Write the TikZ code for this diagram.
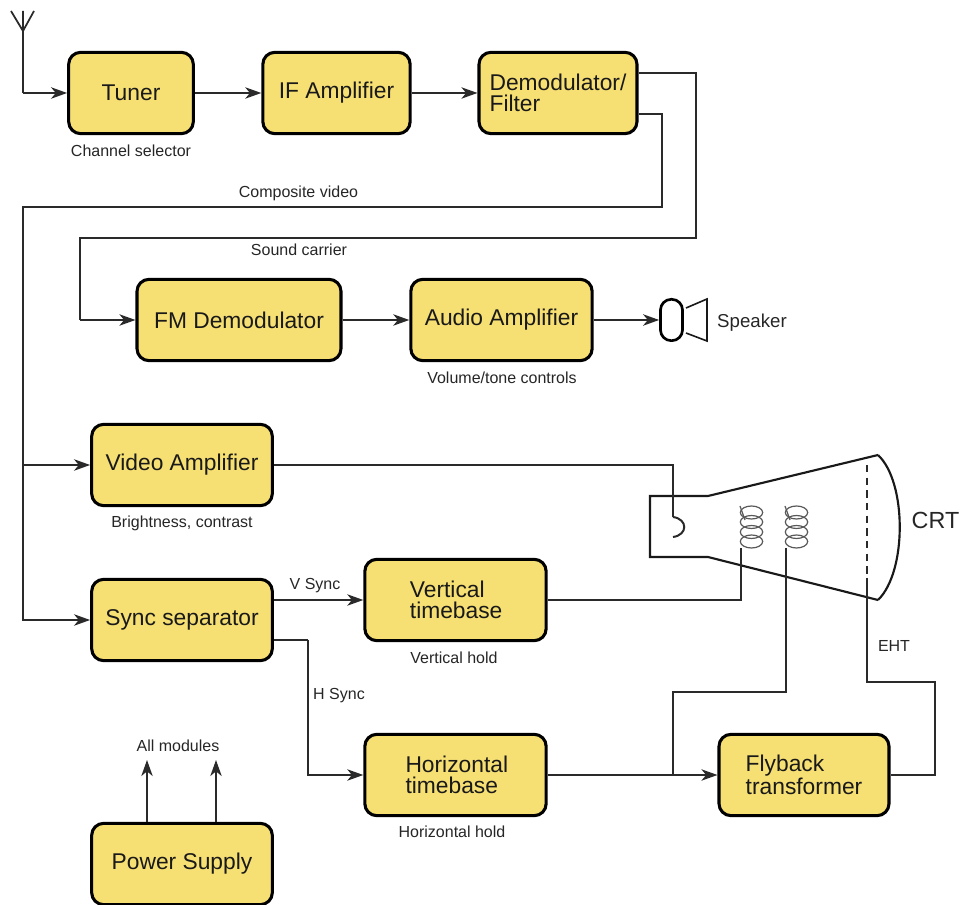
\documentclass[tikz,border=0pt]{standalone}
\usepackage{fontspec}
\setmainfont{Liberation Sans}
\usetikzlibrary{arrows.meta}
\definecolor{boxfill}{HTML}{F6DF73}
\definecolor{wire}{HTML}{2A2A2A}
\tikzset{
  block/.style={draw=black,line width=2.3pt,fill=boxfill,rounded corners=9pt,inner sep=0pt,font=\fontsize{17.1}{15.8}\selectfont,align=left,text=black!90},
  lbl/.style={inner sep=0pt,font=\fontsize{12}{14}\selectfont,text=black!85},
  wired/.style={draw=wire,line width=1.5pt,line join=miter},
  flow/.style={wired,-{Stealth[length=12pt,width=8.5pt,inset=3.5pt]}},
  coil/.style={draw=black!65,line width=0.9pt},
  tube/.style={draw=black!90,line width=1.6pt}
}
\begin{document}
\begin{tikzpicture}[x=0.75pt,y=-0.75pt]
\useasboundingbox (0,0) rectangle (961,905);
% blocks
\node[block,minimum width=93.5pt,minimum height=61pt] (tuner) at (131,93) {Tuner};
\node[block,minimum width=110.5pt,minimum height=61pt] (ifamp) at (336.5,93) {IF Amplifier};
\node[block,minimum width=118.5pt,minimum height=61pt] (demod) at (558,93) {Demodulator/\\Filter};
\node[block,minimum width=153pt,minimum height=61pt] (fm) at (239,320) {FM Demodulator};
\node[block,minimum width=136pt,minimum height=61pt] (audio) at (501.5,320) {Audio Amplifier};
\node[block,minimum width=135.5pt,minimum height=61pt] (video) at (182,465) {Video Amplifier};
\node[block,minimum width=135.5pt,minimum height=61pt] (sync) at (182,620) {Sync separator};
\node[block,minimum width=136pt,minimum height=61pt] (vert) at (455.5,600) {\hspace*{1pt}Vertical\\\hspace*{1pt}timebase};
\node[block,minimum width=136pt,minimum height=61pt] (horiz) at (455.5,775) {\hspace*{2pt}Horizontal\\\hspace*{2pt}timebase};
\node[block,minimum width=127.5pt,minimum height=61pt] (fly) at (804,775) {Flyback\\transformer};
\node[block,minimum width=135.5pt,minimum height=61pt] (power) at (182,864) {Power Supply};
% labels
\node[lbl] (l1) at (131,150.5) {Channel selector};
\node[lbl] (l2) at (298.5,193) {Composite video};
\node[lbl] (l3) at (299,249.5) {Sound carrier};
\node[lbl] (l4) at (502,377.5) {Volume/tone controls};
\node[lbl] (l5) at (182,523.5) {Brightness, contrast};
\node[lbl] (l6) at (315,586) {V Sync};
\node[lbl] (l7) at (339,696) {H Sync};
\node[lbl] (l8) at (454,657.5) {Vertical hold};
\node[lbl] (l9) at (452,832) {Horizontal hold};
\node[lbl] (l10) at (178,745.5) {All modules};
\node[lbl] (l11) at (894,646) {EHT};
\node[lbl,font=\fontsize{14}{16}\selectfont] (l12) at (752,322.5) {Speaker};
\node[lbl,font=\fontsize{17.5}{18}\selectfont] (l13) at (935.5,520) {CRT};
% antenna
\coordinate (antT) at (23,11);
\coordinate (antB) at (23,31);
\coordinate (antL) at (11,11);
\coordinate (antR) at (34,11);
\coordinate (antC) at (23,93);
\draw[wired,line width=1.3pt] (antL) -- (antB) -- (antR) (antT) -- (antB);
\draw[wired] (antT) -- (antC);
\draw[flow] (antC) -- (tuner.west);
% top chain
\draw[flow] (tuner) -- (ifamp);
\draw[flow] (ifamp) -- (demod);
% composite video
\coordinate (cvS) at (demod.east |- 0,114);
\coordinate (cv1) at (662,114);
\coordinate (cv2) at (662,207);
\coordinate (cv3) at (23,207);
\coordinate (cvV) at (23,465);
\draw[wired] (cvS) -- (cv1) -- (cv2) -- (cv3) -- (cvV);
\draw[flow] (cvV) -- (video.west);
\draw[flow] (cvV) |- (sync.west);
% sound carrier
\coordinate (scS) at (demod.east |- 0,73);
\coordinate (sc1) at (696,73);
\coordinate (sc2) at (696,238);
\coordinate (sc3) at (80,238);
\coordinate (sc4) at (80,320);
\draw[wired] (scS) -- (sc1) -- (sc2) -- (sc3) -- (sc4);
\draw[flow] (sc4) -- (fm.west);
\draw[flow] (fm) -- (audio);
% speaker
\node[draw=black,line width=2pt,rounded corners=8pt,minimum width=16.5pt,minimum height=31pt,inner sep=0pt] (spk) at (671.5,320) {};
\coordinate (cone1) at (686,308);
\coordinate (cone2) at (707,299);
\coordinate (cone3) at (707,341);
\coordinate (cone4) at (686,333);
\draw[tube,line width=1.2pt] (cone1) -- (cone2) -- (cone3) -- (cone4);
\draw[flow] (audio) -- (spk);
% sync
\coordinate (vsS) at (sync.east |- vert.west);
\draw[flow] (vsS) -- (vert.west);
\coordinate (hsS) at (sync.east |- 0,640);
\coordinate (hs1) at (308,640);
\draw[wired] (hsS) -- (hs1);
\draw[flow] (hs1) |- (horiz.west);
% power
\coordinate (pa) at (147,760);
\coordinate (pb) at (216,760);
\draw[flow] (power.north -| pa) -- (pa);
\draw[flow] (power.north -| pb) -- (pb);
% CRT
\coordinate (n1) at (708,496);
\coordinate (n2) at (650,496);
\coordinate (n3) at (650,557);
\coordinate (n4) at (708,557);
\coordinate (f1) at (878,455);
\coordinate (f2) at (878,600);
\draw[tube] (f1) -- (n1) -- (n2) -- (n3) -- (n4) -- (f2);
\draw[tube] (f1) .. controls (907,482) and (907,572) .. (f2);
\draw[wired,dash pattern=on 5.5pt off 4pt] (867,465) -- (867,578);
% coils
\foreach \cx in {751.5,796.5}{
  \foreach \cy in {512.5,522,532,541.5}{
    \draw[coil] (\cx,\cy) ellipse [x radius=11.2,y radius=6.5];
  }
  \draw[coil] (\cx-11.5,506) -- (\cx-6.5,520);
}
% video to cathode
\coordinate (cat1) at (673,465);
\coordinate (cat2) at (673,517);
\coordinate (cat3) at (673,537);
\draw[wired] (video.east |- cat1) -- (cat1) -- (cat2);
\draw[wired] (cat2) .. controls (688,519) and (688,535) .. (cat3);
% vertical to coil
\coordinate (vc1) at (741,600);
\coordinate (vc2) at (741,548);
\draw[wired] (vert.east |- vc1) -- (vc1) -- (vc2);
% horizontal to flyback
\coordinate (hb) at (673,775);
\draw[flow] (horiz) -- (fly);
\draw[wired,line width=2.1pt] (628,775) -- (hb);
% horizontal to coil
\coordinate (hc1) at (673,692);
\coordinate (hc2) at (786,692);
\coordinate (hc3) at (786,548);
\draw[wired] (hb) -- (hc1) -- (hc2) -- (hc3);
% EHT
\coordinate (e1) at (867,578);
\coordinate (e2) at (867,682);
\coordinate (e3) at (935,682);
\coordinate (e4) at (935,775);
\draw[wired] (e1) -- (e2) -- (e3) -- (e4) -- (fly.east);
\end{tikzpicture}
\end{document}
